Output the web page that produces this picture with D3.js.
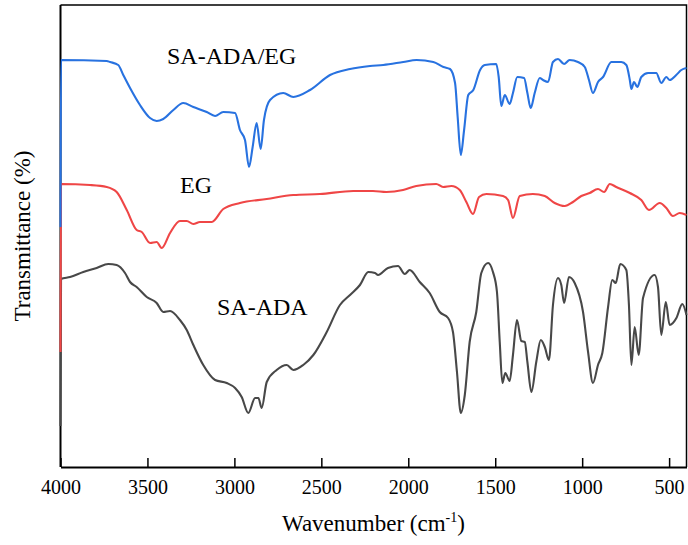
<!DOCTYPE html>
<html>
<head>
<meta charset="utf-8">
<script src="https://cdn.jsdelivr.net/npm/d3@7"></script>
<style>
  html, body { margin: 0; padding: 0; background: #fff; }
  svg { display: block; }
  text { font-family: "Times New Roman", "Liberation Serif", serif; fill: #000; }
</style>
</head>
<body>
<svg id="chart" width="688" height="545"></svg>
<script>
// FTIR spectra, wavenumber (cm-1) vs. transmittance (arbitrary units, offset traces)
const xTicks = [4000, 3500, 3000, 2500, 2000, 1500, 1000, 500];

const wnBlue = [4000, 3997, 3734, 3715, 3668, 3639, 3600, 3543, 3485, 3447, 3409, 3351, 3294, 3236, 3159, 3111, 3064, 2996, 2968, 2939, 2916, 2895, 2872, 2849, 2830, 2795, 2719, 2661, 2565, 2450, 2335, 2220, 2144, 2029, 1952, 1856, 1798, 1760, 1731, 1716, 1698, 1679, 1655, 1626, 1587, 1560, 1494, 1480, 1465, 1445, 1417, 1398, 1373, 1334, 1315, 1296, 1273, 1244, 1225, 1196, 1168, 1139, 1104, 1072, 1024, 985, 961, 938, 909, 880, 832, 775, 746, 726, 717, 702, 683, 660, 621, 574, 545, 516, 497, 459, 430, 400];
const tBlue  = [239, 406, 405, 404, 401, 391, 378, 361, 348, 345, 347, 356, 363, 359, 354, 350, 354, 353, 336, 326, 299, 319, 343, 317, 346, 366, 373, 369, 376, 391, 397, 400, 401, 404, 406, 404, 399, 397, 383, 349, 311, 336, 371, 376, 396, 401, 402, 389, 360, 371, 362, 373, 389, 388, 373, 358, 373, 388, 386, 384, 404, 407, 402, 406, 404, 399, 386, 373, 384, 389, 404, 404, 401, 386, 377, 384, 379, 389, 393, 393, 383, 389, 386, 391, 396, 398];

const wnRed = [4000, 3997, 3830, 3734, 3677, 3619, 3562, 3533, 3485, 3447, 3418, 3370, 3313, 3274, 3236, 3198, 3130, 3064, 2968, 2814, 2661, 2508, 2316, 2203, 2126, 2030, 1954, 1839, 1800, 1752, 1704, 1666, 1628, 1593, 1551, 1455, 1426, 1398, 1359, 1283, 1215, 1158, 1100, 1053, 1005, 957, 909, 874, 841, 804, 726, 660, 616, 554, 516, 478, 439, 400];
const tRed  = [114, 282, 281, 279, 274, 256, 236, 234, 223, 224, 218, 233, 245, 245, 242, 244, 244, 257, 263, 267, 271, 272, 275, 275, 274, 276, 280, 282, 279, 280, 276, 264, 252, 269, 272, 270, 266, 248, 270, 272, 270, 263, 260, 264, 270, 273, 277, 274, 282, 279, 273, 266, 256, 263, 258, 250, 253, 251];

const wnGray = [4000, 3997, 3945, 3869, 3792, 3725, 3677, 3629, 3600, 3562, 3504, 3447, 3409, 3370, 3313, 3274, 3236, 3179, 3111, 3044, 2996, 2958, 2920, 2881, 2862, 2843, 2814, 2757, 2699, 2661, 2604, 2546, 2469, 2393, 2335, 2278, 2230, 2191, 2174, 2117, 2059, 2020, 1992, 1934, 1877, 1819, 1771, 1743, 1720, 1698, 1675, 1647, 1609, 1580, 1541, 1513, 1490, 1474, 1459, 1442, 1417, 1398, 1375, 1350, 1330, 1315, 1292, 1264, 1238, 1215, 1191, 1168, 1139, 1120, 1104, 1076, 1043, 995, 966, 938, 909, 884, 851, 827, 807, 781, 746, 731, 717, 698, 675, 650, 583, 564, 545, 519, 497, 458, 424, 400];
const tGray  = [40, 187, 189, 194, 198, 202, 201, 193, 184, 179, 169, 163, 154, 155, 146, 136, 121, 101, 86, 83, 78, 69, 53, 68, 68, 58, 84, 96, 101, 96, 101, 111, 134, 161, 171, 181, 194, 193, 191, 198, 200, 192, 196, 184, 173, 154, 148, 134, 94, 53, 71, 124, 154, 193, 203, 194, 174, 124, 83, 93, 85, 111, 146, 125, 124, 104, 74, 104, 126, 119, 106, 161, 188, 181, 163, 189, 183, 154, 114, 83, 101, 113, 159, 186, 183, 202, 196, 161, 101, 139, 111, 168, 191, 179, 131, 164, 141, 148, 162, 151];

const seriesNames = ["SA-ADA", "EG", "SA-ADA/EG"];
const seriesColors = ["#484848", "#ef4646", "#2872e0"];

const svg = d3.select("#chart");
const plotLeft = 60.5, plotRight = 686.5, plotTop = 5, plotBottom = 467;

const x = d3.scaleLinear().domain([4000, 400]).range([plotLeft, plotRight]);
const y = d3.scaleLinear().domain([0, 461]).range([466, 5]);

// frame (top and right edges)
svg.append("path")
  .attr("d", `M${plotLeft},${plotTop}H${plotRight}V${plotBottom}`)
  .attr("fill", "none").attr("stroke", "#000").attr("stroke-width", 1.5);

// left axis line (no ticks)
svg.append("line")
  .attr("x1", plotLeft).attr("x2", plotLeft).attr("y1", plotTop).attr("y2", plotBottom)
  .attr("stroke", "#000").attr("stroke-width", 2);

// bottom axis, ticks pointing inward
const xAxis = d3.axisBottom(x).tickValues(xTicks).tickSizeInner(-9).tickSizeOuter(0).tickPadding(13)
  .tickFormat(d3.format("d"));
const gx = svg.append("g").attr("transform", `translate(0,${plotBottom})`).call(xAxis);
gx.attr("font-family", null).attr("font-size", null);
gx.select(".domain").attr("stroke", "#000").attr("stroke-width", 2);
gx.selectAll(".tick line").attr("stroke", "#000").attr("stroke-width", 1.5);
gx.selectAll(".tick text")
  .attr("font-family", "Liberation Serif")
  .style("font-family", "'Liberation Serif', serif")
  .style("font-size", "20px").attr("fill", "#000");

const line = d3.line().x(d => x(d[0])).y(d => y(d[1])).curve(d3.curveMonotoneX);

const series = [
  d3.zip(wnGray, tGray),
  d3.zip(wnRed, tRed),
  d3.zip(wnBlue, tBlue)
];

series.forEach((data, i) => {
  svg.append("path")
    .datum(data)
    .attr("d", line)
    .attr("fill", "none")
    .attr("stroke", seriesColors[i])
    .attr("stroke-width", 2.1)
    .attr("stroke-linejoin", "round");
});

// trace labels
const labelPos = [
  { x: 217, y: 315 },
  { x: 180, y: 193 },
  { x: 167, y: 64 }
];
seriesNames.forEach((name, i) => {
  svg.append("text")
    .attr("x", labelPos[i].x).attr("y", labelPos[i].y)
    .style("font-size", "24px")
    .text(name);
});

// axis titles
const xt = svg.append("text")
  .attr("x", (plotLeft + plotRight) / 2).attr("y", 531)
  .attr("text-anchor", "middle")
  .style("font-size", "23px");
xt.append("tspan").text("Wavenumber (cm");
xt.append("tspan").attr("dy", -9).style("font-size", "14px").text("-1");
xt.append("tspan").attr("dy", 9).text(")");

svg.append("text")
  .attr("transform", "translate(30,236) rotate(-90)")
  .attr("text-anchor", "middle")
  .style("font-size", "23px")
  .text("Transmittance (%)");
</script>
</body>
</html>
